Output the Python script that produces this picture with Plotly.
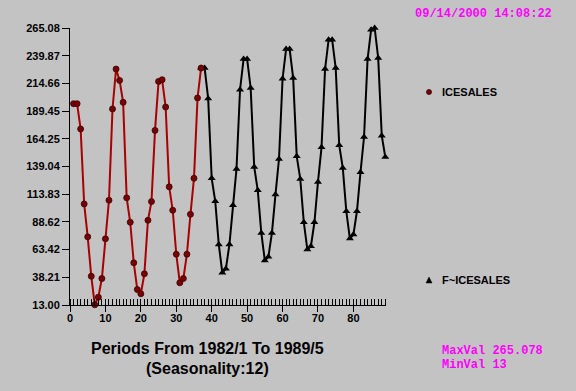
import plotly.graph_objects as go

# ---- data ----
actual_periods = list(range(1, 38))
actual_values = [196.2, 196.2, 173.2, 105.0, 75.0, 39.2, 13.2, 20.1, 37.1, 73.2,
                 108.3, 191.4, 227.7, 217.4, 197.4, 110.5, 88.3, 51.4, 27.1, 23.2,
                 41.4, 90.1, 107.1, 171.9, 216.5, 218.0, 193.2, 120.5, 99.2, 59.2,
                 33.2, 37.1, 59.2, 95.5, 128.3, 201.4, 228.6]

forecast_periods = list(range(37, 90))
forecast_values = [228.6, 228.6, 201.0, 128.3, 107.4, 68.0, 42.3, 45.9, 68.0, 103.7,
                   136.8, 208.9, 236.8, 236.8, 210.5, 138.6, 117.4, 78.6, 53.5, 56.8,
                   78.6, 113.5, 145.9, 218.9, 245.9, 245.9, 219.5, 148.3, 127.7, 88.3,
                   63.5, 66.5, 88.3, 125.0, 156.5, 227.7, 254.4, 254.4, 228.6, 158.3,
                   137.7, 98.3, 73.5, 77.1, 98.3, 133.7, 165.9, 236.8, 263.5, 265.078,
                   237.7, 167.1, 147.7]

y_ticks = [13.00, 38.21, 63.42, 88.62, 113.83, 139.04, 164.25, 189.45, 214.66, 239.87, 265.08]
x_ticks = list(range(0, 90))
x_ticktext = [str(v) if v % 10 == 0 else "" for v in x_ticks]

series_names = ["ICESALES", "F~ICESALES"]
timestamp = "09/14/2000 14:08:22"
stats_text = ["MaxVal 265.078", "MinVal 13"]
axis_title = ["Periods From 1982/1 To 1989/5", "(Seasonality:12)"]

# ---- layout geometry ----
W, H = 576, 391
L, R, T, B = 70, 190, 28, 86
PW, PH = W - L - R, H - T - B


def px(x):
    return (x - L) / PW


def py(y):
    return (H - B - y) / PH


BG = "#c3c3c3"
RED_LINE = "#a80000"
RED_MARK = "#7a0000"

fig = go.Figure()
fig.add_trace(go.Scatter(
    x=forecast_periods, y=forecast_values, mode="lines+markers",
    line=dict(color="black", width=2),
    marker=dict(symbol="triangle-up", size=7, color="black"),
    cliponaxis=False, showlegend=False, name=series_names[1]))
fig.add_trace(go.Scatter(
    x=actual_periods, y=actual_values, mode="lines+markers",
    line=dict(color=RED_LINE, width=2),
    marker=dict(symbol="circle", size=6, color=RED_MARK,
                line=dict(color="#3a0000", width=0.8)),
    cliponaxis=False, showlegend=False, name=series_names[0]))

tickfont = dict(family="Liberation Sans, Arial, sans-serif", size=11, color="black", weight="bold")

fig.update_xaxes(
    range=[0, 89.2], showgrid=False, zeroline=False,
    showline=True, linecolor="black", linewidth=1,
    tickmode="array", tickvals=x_ticks, ticktext=x_ticktext,
    ticks="outside", ticklen=6, tickwidth=1, tickcolor="black",
    minor=dict(tickmode="array", tickvals=x_ticks, ticks="inside", ticklen=6,
               tickwidth=1, tickcolor="black", showgrid=False),
    tickfont=tickfont, tickangle=0, automargin=False, ticklabelstandoff=-3)
fig.update_yaxes(
    range=[13, 265.08], showgrid=False, zeroline=False,
    showline=True, linecolor="black", linewidth=1,
    tickmode="array", tickvals=y_ticks, ticktext=[f"{v:.2f}" for v in y_ticks],
    ticks="outside", ticklen=7, tickwidth=1, tickcolor="black",
    tickfont=tickfont, automargin=False)

annotations = [
    dict(text=timestamp, x=px(413), y=py(14), xanchor="left", yanchor="middle",
         font=dict(family="Liberation Mono, monospace", size=12, color="#ff00ff", weight="bold")),
    dict(text=series_names[0], x=px(440), y=py(92), xanchor="left", yanchor="middle",
         font=dict(family="Liberation Sans, Arial, sans-serif", size=11, color="black", weight="bold")),
    dict(text=series_names[1], x=px(440), y=py(280), xanchor="left", yanchor="middle",
         font=dict(family="Liberation Sans, Arial, sans-serif", size=11, color="black", weight="bold")),
    dict(text=stats_text[0], x=px(440), y=py(351), xanchor="left", yanchor="middle",
         font=dict(family="Liberation Mono, monospace", size=12, color="#ff00ff", weight="bold")),
    dict(text=stats_text[1], x=px(440), y=py(365), xanchor="left", yanchor="middle",
         font=dict(family="Liberation Mono, monospace", size=12, color="#ff00ff", weight="bold")),
    dict(text=axis_title[0], x=px(207), y=py(348), xanchor="center", yanchor="middle",
         font=dict(family="Liberation Sans, Arial, sans-serif", size=16, color="black", weight="bold")),
    dict(text=axis_title[1], x=px(207), y=py(368), xanchor="center", yanchor="middle",
         font=dict(family="Liberation Sans, Arial, sans-serif", size=16, color="black", weight="bold")),
]
for a in annotations:
    a.update(xref="paper", yref="paper", showarrow=False)

shapes = [
    dict(type="circle", xref="paper", yref="paper",
         x0=px(426.5), x1=px(431.5), y0=py(89.5), y1=py(94.5),
         fillcolor=RED_MARK, line=dict(color="#3a0000", width=0.8)),
    dict(type="path", xref="paper", yref="paper",
         path=f"M {px(426)} {py(283)} L {px(432)} {py(283)} L {px(429)} {py(277)} Z",
         fillcolor="black", line=dict(color="black", width=0.5)),
]

fig.update_layout(
    width=W, height=H, autosize=False,
    margin=dict(l=L, r=R, t=T, b=B, pad=0),
    paper_bgcolor=BG, plot_bgcolor=BG,
    annotations=annotations, shapes=shapes, showlegend=False)

fig.write_html("out.html", config={"displayModeBar": False},
               post_script="document.body.style.margin='0';document.body.style.background='" + BG + "';")
